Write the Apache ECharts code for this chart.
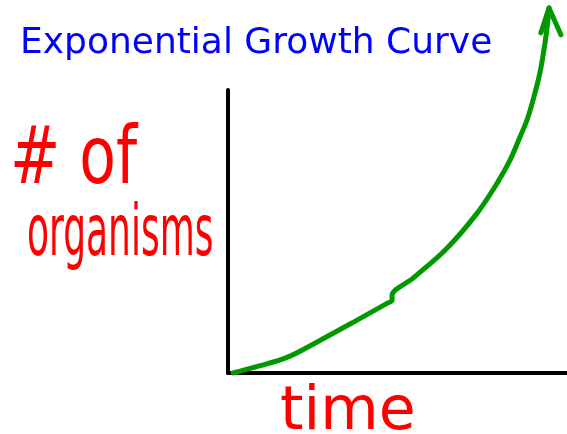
<!DOCTYPE html>
<html>
<head>
<meta charset="utf-8">
<script src="https://cdn.jsdelivr.net/npm/echarts@6/dist/echarts.min.js"></script>
<style>
  html, body { margin: 0; padding: 0; background: #fff; }
  #main { width: 567px; height: 434px; }
</style>
</head>
<body>
<div id="main"></div>
<script>
  // curve (time 0..10, count 0..100, top runs past the axis)
  var timeValues = [0.15, 0.74, 1.74, 2.71, 3.69, 4.69, 4.84, 4.84, 5.46, 6.46, 7.35, 7.94, 8.32, 8.61, 8.82, 9.00, 9.20, 9.35, 9.44, 9.47];
  var organismValues = [0, 1.9, 5.5, 11.5, 17.9, 24.6, 25.7, 27.4, 33.5, 44.1, 56.5, 67.1, 75.2, 83.3, 89.4, 96.5, 106, 116.6, 124.8, 129];
  // arrow head: left barb, tip, right barb
  var arrowTime = [9.23, 9.47, 9.82];
  var arrowCount = [120.2, 129, 119.5];

  var curve = timeValues.map(function (t, i) { return [t, organismValues[i]]; });
  var arrow = arrowTime.map(function (t, i) { return [t, arrowCount[i]]; });

  var green = '#009a00';
  var red = '#ff0000';

  var option = {
    backgroundColor: '#fff',
    animation: false,
    title: {
      text: 'Exponential Growth Curve',
      left: 15,
      top: 21,
      textStyle: {
        color: '#0000ff',
        fontFamily: 'DejaVu Sans',
        fontWeight: 'normal',
        fontSize: 36
      }
    },
    grid: {
      left: 228,
      right: 0,
      top: 90,
      bottom: 61
    },
    xAxis: {
      type: 'value',
      min: 0,
      max: 10,
      axisLine: { show: true, lineStyle: { color: '#000', width: 4 } },
      axisTick: { show: false },
      axisLabel: { show: false },
      splitLine: { show: false }
    },
    yAxis: {
      type: 'value',
      min: 0,
      max: 100,
      axisLine: { show: true, lineStyle: { color: '#000', width: 4 } },
      axisTick: { show: false },
      axisLabel: { show: false },
      splitLine: { show: false }
    },
    graphic: [
      {
        type: 'text',
        x: 10, y: 162,
        scaleY: 1.35,
        style: { text: '# of', fill: red, font: '60px "DejaVu Sans"', textAlign: 'left', textVerticalAlign: 'middle' }
      },
      {
        type: 'text',
        x: 27, y: 236,
        scaleY: 2,
        style: { text: 'organisms', fill: red, font: '36px "DejaVu Sans"', textAlign: 'left', textVerticalAlign: 'middle' }
      },
      {
        type: 'text',
        x: 280, y: 413,
        style: { text: 'time', fill: red, font: '60px "DejaVu Sans"', textAlign: 'left', textVerticalAlign: 'middle' }
      }
    ],
    series: [
      {
        name: 'growth',
        type: 'line',
        data: curve,
        smooth: 0.35,
        clip: false,
        symbol: 'none',
        lineStyle: { color: green, width: 5, cap: 'round', join: 'round' }
      },
      {
        name: 'arrow',
        type: 'line',
        data: arrow,
        clip: false,
        symbol: 'none',
        lineStyle: { color: green, width: 5, cap: 'round', join: 'round' }
      }
    ]
  };

  echarts.init(document.getElementById('main')).setOption(option);
</script>
</body>
</html>
